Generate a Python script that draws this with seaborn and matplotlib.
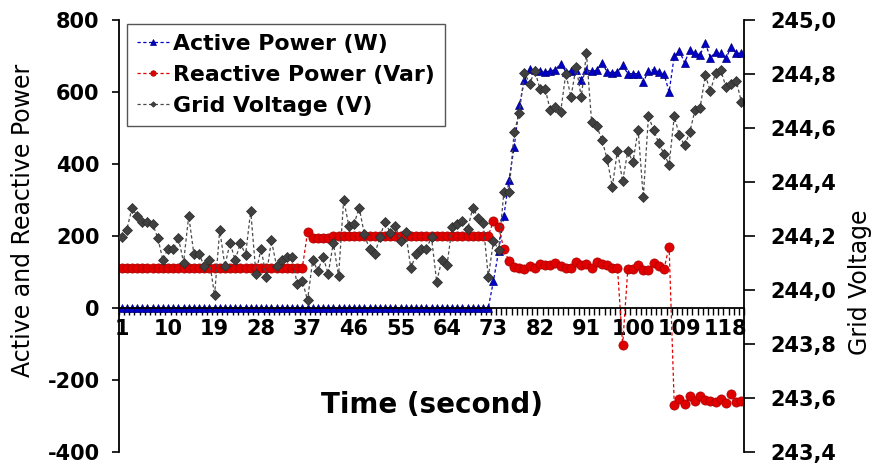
import matplotlib
matplotlib.use("Agg")
import matplotlib.pyplot as plt
import numpy as np
import pandas as pd
import seaborn as sns
from matplotlib.ticker import FixedLocator, FuncFormatter

# ---- data -------------------------------------------------------------
seconds = list(range(1, 122))

active_power = [
    0, 0, 0, 0, 0, 0, 0, 0, 0, 0, 0, 0,
    0, 0, 0, 0, 0, 0, 0, 0, 0, 0, 0, 0,
    0, 0, 0, 0, 0, 0, 0, 0, 0, 0, 0, 0,
    0, 0, 0, 0, 0, 0, 0, 0, 0, 0, 0, 0,
    0, 0, 0, 0, 0, 0, 0, 0, 0, 0, 0, 0,
    0, 0, 0, 0, 0, 0, 0, 0, 0, 0, 0, 0,
    75, 158, 254, 355, 446, 563, 632, 665, 660, 658,
    656, 658, 662, 679, 656, 658, 662, 632, 660, 658,
    660, 681, 656, 653, 656, 674, 651, 651, 651, 628,
    658, 662, 656, 651, 600, 700, 714, 681, 716, 708,
    703, 736, 695, 711, 707, 693, 725, 707, 708,
]

reactive_power = [
    112, 112, 112, 112, 112, 112, 112, 112, 112, 112, 112, 112,
    112, 112, 112, 112, 112, 112, 112, 112, 112, 112, 112, 112,
    112, 112, 112, 112, 112, 112, 112, 112, 112, 112, 112, 112,
    210, 195, 195, 195, 195, 200, 200, 200, 200, 200, 200, 200,
    200, 200, 200, 200, 200, 200, 200, 200, 200, 200, 200, 200,
    200, 200, 200, 200, 200, 200, 200, 200, 200, 200, 200, 200,
    242, 225, 163, 130, 114, 110, 107, 116, 110, 121,
    118, 118, 124, 116, 112, 112, 127, 118, 121, 110,
    127, 121, 118, 112, 112, -104, 107, 109, 118, 104,
    104, 124, 116, 107, 170, -271, -253, -268, -246, -260,
    -244, -256, -258, -262, -254, -265, -239, -262, -258,
]

grid_voltage = [
    244.194, 244.222, 244.302, 244.275, 244.252, 244.252, 244.244, 244.193, 244.111, 244.153,
    244.153, 244.193, 244.101, 244.275, 244.132, 244.132, 244.089, 244.110, 243.979, 244.222,
    244.089, 244.174, 244.110, 244.174, 244.129, 244.293, 244.060, 244.153, 244.049, 244.183,
    244.089, 244.110, 244.122, 244.122, 244.020, 244.033, 243.961, 244.110, 244.070, 244.122,
    244.060, 244.174, 244.050, 244.333, 244.237, 244.243, 244.305, 244.206, 244.150, 244.132,
    244.194, 244.253, 244.212, 244.237, 244.181, 244.213, 244.080, 244.132, 244.153, 244.153,
    244.194, 244.030, 244.111, 244.091, 244.234, 244.244, 244.254, 244.225, 244.305, 244.268,
    244.246, 244.047, 244.181, 244.148, 244.361, 244.361, 244.584, 244.655, 244.805, 244.764,
    244.811, 244.746, 244.746, 244.665, 244.677, 244.659, 244.801, 244.715, 244.826, 244.715,
    244.876, 244.622, 244.606, 244.556, 244.485, 244.382, 244.516, 244.402, 244.514, 244.473,
    244.594, 244.343, 244.643, 244.593, 244.543, 244.504, 244.464, 244.643, 244.572, 244.535,
    244.584, 244.665, 244.674, 244.795, 244.736, 244.805, 244.814, 244.752, 244.764, 244.774,
    244.696,
]

x_tick_labels = [1, 10, 19, 28, 37, 46, 55, 64, 73, 82, 91, 100, 109, 118]
power_ticks = [-400, -200, 0, 200, 400, 600, 800]
voltage_ticks = [243.4, 243.6, 243.8, 244.0, 244.2, 244.4, 244.6, 244.8, 245.0]

df = pd.DataFrame({
    "second": seconds,
    "active": active_power,
    "reactive": reactive_power,
    "voltage": grid_voltage,
})

# ---- style ------------------------------------------------------------
sns.set_theme(style="white")
plt.rcParams["font.family"] = ["DejaVu Sans"]
plt.rcParams["font.weight"] = "bold"
plt.rcParams["axes.unicode_minus"] = False
for key in ("text.color", "axes.labelcolor", "xtick.color", "ytick.color",
            "xtick.labelcolor", "ytick.labelcolor"):
    plt.rcParams[key] = "black"

W, H = 875, 465
fig = plt.figure(figsize=(W / 100, H / 100), dpi=100)
left_px, right_px, top_px, bottom_px = 119, 744, 20, 451.7
ax = fig.add_axes([left_px / W, 1 - bottom_px / H,
                   (right_px - left_px) / W, (bottom_px - top_px) / H])
ax2 = ax.twinx()

dash = (0, (2.6, 2.0))

sns.lineplot(data=df, x="second", y="active", ax=ax, errorbar=None,
             color="#0000C8", linestyle=dash, linewidth=0.9,
             marker="^", markersize=6.3, markerfacecolor="#0000C8",
             markeredgecolor="#00007A", markeredgewidth=0.5,
             label="Active Power (W)", legend=False)
sns.lineplot(data=df, x="second", y="reactive", ax=ax, errorbar=None,
             color="#E00000", linestyle=dash, linewidth=0.9,
             marker="o", markersize=6.6, markerfacecolor="#E00000",
             markeredgecolor="#A80000", markeredgewidth=0.5,
             label="Reactive Power (Var)", legend=False)
sns.lineplot(data=df, x="second", y="voltage", ax=ax2, errorbar=None,
             color="#4A4A4A", linestyle=dash, linewidth=0.9,
             marker="D", markersize=4.6, markerfacecolor="#404040",
             markeredgecolor="#2A2A2A", markeredgewidth=0.5,
             label="Grid Voltage (V)", legend=False)

# ---- axes -------------------------------------------------------------
ax.set_xlim(0.5, 121.5)
ax.set_ylim(-400, 800)
ax2.set_ylim(243.4, 245.0)

for a in (ax, ax2):
    a.set_xlabel("")
    a.set_ylabel("")
    a.grid(False)
    a.spines["top"].set_visible(False)

ax.spines["right"].set_visible(False)
ax.spines["bottom"].set_position(("data", 0))
ax2.spines["left"].set_visible(False)
ax2.spines["bottom"].set_visible(False)
for sp in (ax.spines["left"], ax.spines["bottom"], ax2.spines["right"]):
    sp.set_color("black")
    sp.set_linewidth(1.3)

ax.xaxis.set_major_locator(FixedLocator(x_tick_labels))
ax.xaxis.set_minor_locator(FixedLocator(np.arange(0.5, 122.0, 1.0)))
ax.tick_params(axis="x", which="major", length=0, pad=8, labelsize=15,
               bottom=True, labelcolor="black")
ax.tick_params(axis="x", which="minor", direction="out", length=5,
               width=1.0, color="black", bottom=True)
for lab in ax.get_xticklabels():
    lab.set_fontweight("bold")

ax.yaxis.set_major_locator(FixedLocator(power_ticks))
ax.tick_params(axis="y", which="major", direction="out", length=5,
               width=1.2, color="black", pad=9, labelsize=15, left=True,
               labelcolor="black")

ax2.yaxis.set_major_locator(FixedLocator(voltage_ticks))
ax2.yaxis.set_major_formatter(
    FuncFormatter(lambda v, p: f"{v:.1f}".replace(".", ",")))
ax2.tick_params(axis="y", which="major", direction="out", length=8,
                width=1.2, color="black", pad=11, labelsize=15, right=True,
                labelcolor="black")

# ---- titles -----------------------------------------------------------
fig.text(23 / W, 1 - 220 / H, "Active and Reactive Power", rotation=90,
         ha="center", va="center", fontsize=17, fontweight="normal",
         color="black")
fig.text(860 / W, 1 - 282 / H, "Grid Voltage", rotation=90,
         ha="center", va="center", fontsize=17, fontweight="normal",
         color="black")
fig.text(432 / W, 1 - 405 / H, "Time (second)", ha="center", va="center",
         fontsize=20, fontweight="bold", color="black")

# ---- legend -----------------------------------------------------------
handles = [ax.lines[0], ax.lines[1], ax2.lines[0]]
labels = ["Active Power (W)", "Reactive Power (Var)", "Grid Voltage (V)"]
leg = fig.legend(handles, labels, loc="upper left",
                 bbox_to_anchor=(127 / W, 1 - 24 / H), borderaxespad=0,
                 frameon=True, fancybox=False, framealpha=1,
                 edgecolor="#555555", fontsize=15.8, markerscale=0.6,
                 handlelength=1.5, handletextpad=0.15, labelspacing=0.5,
                 borderpad=0.45)
leg.get_frame().set_linewidth(1.0)
for t in leg.get_texts():
    t.set_fontweight("bold")
    t.set_color("black")

fig.savefig("out.png", dpi=100)
